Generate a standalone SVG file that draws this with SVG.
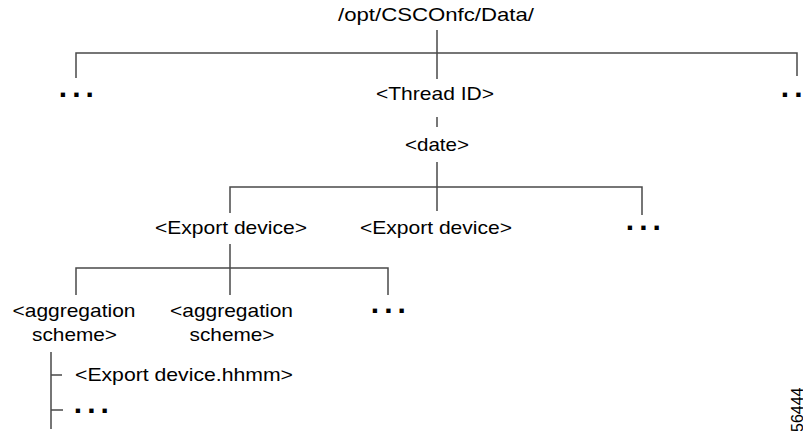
<svg xmlns="http://www.w3.org/2000/svg" width="803" height="431" viewBox="0 0 803 431">
<style>
text{font-family:"Liberation Sans",Arial,Helvetica,sans-serif;font-size:19px;fill:#000}
.c{text-anchor:middle}
.dots{font-weight:bold;font-size:30px;letter-spacing:5px}
.ln{stroke:#4a4a4a;stroke-width:1.5;fill:none}
.id{font-size:16px}
</style>
<rect width="803" height="431" fill="#fff"/>
<g id="connectors" class="ln">
<path d="M437 30V79M76 78V53H797V76"/>
<path d="M437 117V127"/>
<path d="M437 162V211M230 213V187H642V215"/>
<path d="M230 244V295M76 295V268H388V295"/>
<path d="M51 352V429M51 375H62M51 410H63"/>
</g>
<g id="root"><text class="c" x="436" y="21" textLength="196" lengthAdjust="spacingAndGlyphs">/opt/CSCOnfc/Data/</text></g>
<g id="dots-l1"><text class="dots" x="58.8" y="97">...</text></g>
<g id="thread"><text class="c" x="435" y="100" textLength="118" lengthAdjust="spacingAndGlyphs">&lt;Thread ID&gt;</text></g>
<g id="dots-r1"><text class="dots" x="780.8" y="97">...</text></g>
<g id="date"><text class="c" x="437" y="151" textLength="64" lengthAdjust="spacingAndGlyphs">&lt;date&gt;</text></g>
<g id="export1"><text class="c" x="231" y="234" textLength="152" lengthAdjust="spacingAndGlyphs">&lt;Export device&gt;</text></g>
<g id="export2"><text class="c" x="436" y="234" textLength="152" lengthAdjust="spacingAndGlyphs">&lt;Export device&gt;</text></g>
<g id="dots-r2"><text class="dots" x="625.8" y="230">...</text></g>
<g id="agg1"><text class="c" x="74" y="317" textLength="123" lengthAdjust="spacingAndGlyphs">&lt;aggregation</text><text class="c" x="74.5" y="341" textLength="85" lengthAdjust="spacingAndGlyphs">scheme&gt;</text></g>
<g id="agg2"><text class="c" x="231.5" y="317" textLength="123" lengthAdjust="spacingAndGlyphs">&lt;aggregation</text><text class="c" x="232" y="341" textLength="85" lengthAdjust="spacingAndGlyphs">scheme&gt;</text></g>
<g id="dots-r3"><text class="dots" x="370.8" y="313">...</text></g>
<g id="file"><text x="75" y="381" textLength="218" lengthAdjust="spacingAndGlyphs">&lt;Export device.hhmm&gt;</text></g>
<g id="dots-file"><text class="dots" x="73.8" y="413">...</text></g>
<text class="id" transform="translate(803,432) rotate(-90)">56444</text>
</svg>
